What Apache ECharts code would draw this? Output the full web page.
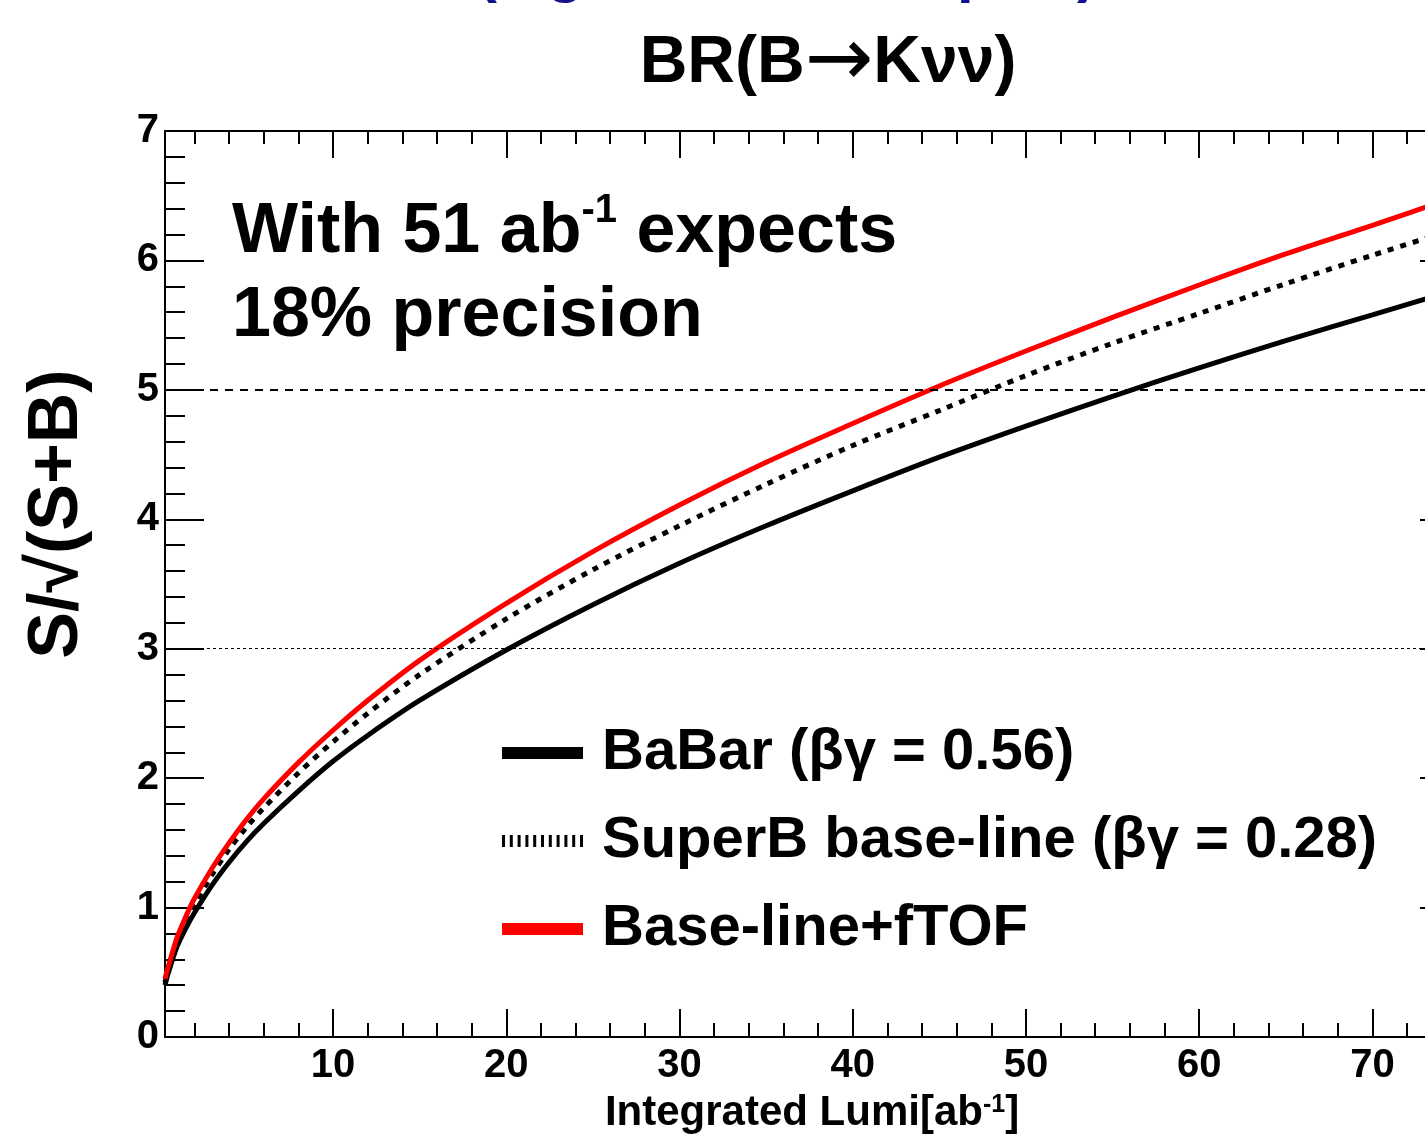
<!DOCTYPE html>
<html>
<head>
<meta charset="utf-8">
<script src="https://cdn.jsdelivr.net/npm/echarts@6/dist/echarts.min.js"></script>
<style>
  html, body { margin: 0; padding: 0; background: #fff; }
  #chart { width: 1425px; height: 1138px; }
</style>
</head>
<body>
<div id="chart"></div>
<script>
  // values
  var lumi   = [0.3, 0.5, 1, 1.5, 2, 3, 4, 5, 6, 8, 10, 12, 15, 20, 25, 30, 35, 40, 45, 50, 55, 60, 65, 70, 75];
  var babar  = [0.40, 0.50, 0.70, 0.84, 0.96, 1.17, 1.35, 1.51, 1.65, 1.90, 2.13, 2.33, 2.60, 2.99, 3.34, 3.66, 3.95, 4.22, 4.48, 4.72, 4.95, 5.17, 5.38, 5.58, 5.78];
  var superb = [0.42, 0.53, 0.74, 0.89, 1.02, 1.25, 1.45, 1.62, 1.77, 2.04, 2.28, 2.50, 2.80, 3.23, 3.61, 3.95, 4.27, 4.57, 4.84, 5.11, 5.36, 5.59, 5.82, 6.04, 6.25];
  var ftof   = [0.45, 0.55, 0.77, 0.93, 1.07, 1.30, 1.50, 1.68, 1.84, 2.12, 2.37, 2.60, 2.91, 3.35, 3.75, 4.11, 4.44, 4.74, 5.03, 5.30, 5.56, 5.81, 6.05, 6.27, 6.50];
  var seriesNames = ['BaBar (βγ = 0.56)', 'SuperB base-line (βγ = 0.28)', 'Base-line+fTOF'];
  var xMajorTicks = [10, 20, 30, 40, 50, 60, 70];
  var xMinorTicks = [2, 4, 6, 8, 12, 14, 16, 18, 22, 24, 26, 28, 32, 34, 36, 38, 42, 44, 46, 48, 52, 54, 56, 58, 62, 64, 66, 68, 72, 74];
  var refLines = [5, 3];

  var FONT = '"Liberation Sans", Arial, Helvetica, sans-serif';
  var X_MIN = 0.3, X_MAX = 75;

  function pairs(ys) {
    return lumi.map(function (l, i) { return [l, ys[i]]; });
  }

  // dotted legend sample: short vertical bars
  var barPath = 'path://';
  for (var i = 0; i < 11; i++) {
    var x0 = i * 7.8;
    barPath += 'M' + x0 + ',0h3v12h-3z';
  }

  function xAxisDef(pos, ticks, len, withLine, withLabel) {
    return {
      type: 'value', position: pos, min: X_MIN, max: X_MAX,
      axisLine: { show: withLine, lineStyle: { color: '#000', width: 2 } },
      axisTick: { show: true, inside: true, length: len, customValues: ticks, lineStyle: { color: '#000', width: 2 } },
      axisLabel: withLabel ? {
        show: true, customValues: ticks, margin: 9,
        color: '#000', fontSize: 40, fontWeight: 'bold', fontFamily: FONT
      } : { show: false },
      splitLine: { show: false }
    };
  }

  function yAxisDef(pos, withLabel) {
    return {
      type: 'value', position: pos, min: 0, max: 7, interval: 1,
      axisLine: { show: true, lineStyle: { color: '#000', width: 2 } },
      axisTick: { show: true, inside: true, length: 39, lineStyle: { color: '#000', width: 2 } },
      minorTick: { show: true, splitNumber: 5, length: 20, lineStyle: { color: '#000', width: 2 } },
      axisLabel: withLabel ? {
        show: true, margin: 6, color: '#000', fontSize: 40, fontWeight: 'bold', fontFamily: FONT
      } : { show: false },
      splitLine: { show: false }
    };
  }

  var chart = echarts.init(document.getElementById('chart'));
  chart.setOption({
    animation: false,
    backgroundColor: '#fff',
    grid: { left: 165, top: 131, width: 1294, height: 906, outerBoundsMode: 'none' },
    xAxis: [
      xAxisDef('bottom', xMajorTicks, 28, true, true),
      xAxisDef('bottom', xMinorTicks, 14, false, false),
      xAxisDef('top', xMajorTicks, 27, true, false),
      xAxisDef('top', xMinorTicks, 13, false, false)
    ],
    yAxis: [yAxisDef('left', true), yAxisDef('right', false)],
    legend: {
      orient: 'vertical', left: 497, top: 718,
      itemWidth: 81, itemHeight: 12, itemGap: 28,
      selectedMode: false,
      textStyle: { color: '#000', fontSize: 58, fontWeight: 'bold', fontFamily: FONT, lineHeight: 60, padding: [0, 0, 0, 14] },
      data: [
        { name: seriesNames[0], icon: 'rect' },
        { name: seriesNames[1], icon: barPath },
        { name: seriesNames[2], icon: 'rect' }
      ]
    },
    graphic: [
      {
        type: 'text', x: 787, y: 4,
        style: { text: '(e.g. with all samples)', font: 'bold 60px ' + FONT, fill: '#12128c', align: 'center', verticalAlign: 'bottom', textAlign: 'center', textVerticalAlign: 'bottom' }
      },
      {
        type: 'text', x: 828, y: 64,
        style: {
          text: '{a|BR(B}{b|→}{a|Kνν)}',
          align: 'center', verticalAlign: 'middle', textAlign: 'center', textVerticalAlign: 'middle',
          rich: {
            a: { font: 'bold 66px ' + FONT, fill: '#000', lineHeight: 70 },
            b: { font: 'normal 82px "DejaVu Sans", ' + FONT, fill: '#000', lineHeight: 70 }
          }
        }
      },
      {
        type: 'text', x: 232, y: 191,
        style: {
          text: '{m|With 51 ab}{s|-1}{m| expects}\n{m|18% precision}',
          align: 'left', verticalAlign: 'top', textAlign: 'left', textVerticalAlign: 'top',
          rich: {
            m: { font: 'bold 70px ' + FONT, fill: '#000', lineHeight: 84 },
            s: { font: 'bold 40px ' + FONT, fill: '#000', lineHeight: 54, verticalAlign: 'top' }
          }
        }
      },
      {
        type: 'text', x: 812, y: 1093,
        style: {
          text: '{m|Integrated Lumi[ab}{s|-1}{m|]}',
          align: 'center', verticalAlign: 'top', textAlign: 'center', textVerticalAlign: 'top',
          rich: {
            m: { font: 'bold 42px ' + FONT, fill: '#000', lineHeight: 40 },
            s: { font: 'bold 25px ' + FONT, fill: '#000', lineHeight: 10, verticalAlign: 'top' }
          }
        }
      },
      {
        type: 'text', x: 58, y: 514, rotation: Math.PI / 2,
        style: { text: 'S/√(S+B)', font: 'bold 70px ' + FONT, fill: '#000', align: 'center', verticalAlign: 'middle', textAlign: 'center', textVerticalAlign: 'middle' }
      }
    ],
    series: [
      {
        name: seriesNames[0], type: 'line', data: pairs(babar),
        showSymbol: false, symbol: 'none', smooth: 0.3, color: '#000',
        lineStyle: { color: '#000', width: 5 },
        markLine: {
          silent: true, symbol: ['none', 'none'], label: { show: false },
          data: [
            { yAxis: refLines[0], lineStyle: { color: '#000', width: 2, type: [8, 7] } },
            { yAxis: refLines[1], lineStyle: { color: '#000', width: 1, type: [3, 3] } }
          ]
        }
      },
      {
        name: seriesNames[1], type: 'line', data: pairs(superb),
        showSymbol: false, symbol: 'none', smooth: 0.3, color: '#000',
        lineStyle: { color: '#000', width: 5, type: [6, 7] }
      },
      {
        name: seriesNames[2], type: 'line', data: pairs(ftof),
        showSymbol: false, symbol: 'none', smooth: 0.3, color: '#ff0000',
        lineStyle: { color: '#ff0000', width: 5 }
      }
    ]
  });
</script>
</body>
</html>
